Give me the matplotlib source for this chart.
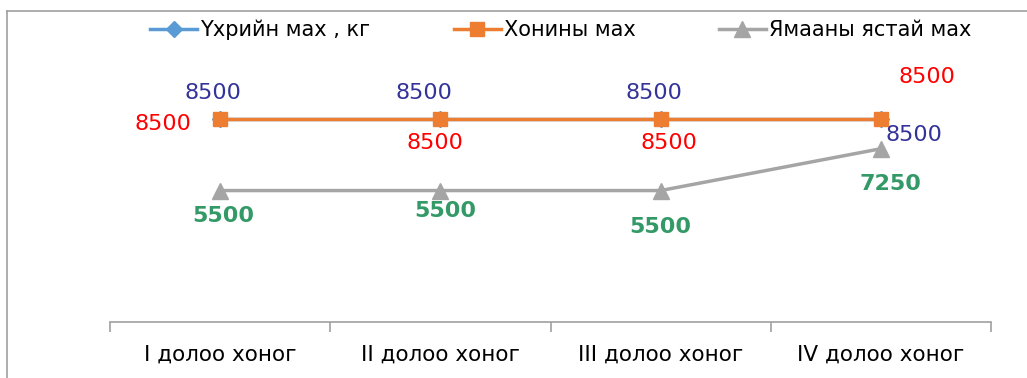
import matplotlib.pyplot as plt
from matplotlib.lines import Line2D

plt.rcParams['font.family'] = ['DejaVu Sans']

weeks = ['I долоо хоног', 'II долоо хоног', 'III долоо хоног', 'IV долоо хоног']
beef = [8500, 8500, 8500, 8500]
mutton = [8500, 8500, 8500, 8500]
goat = [5500, 5500, 5500, 7250]

names = ['Үхрийн мах , кг', 'Хонины мах', 'Ямааны ястай мах']

fig = plt.figure(figsize=(10.27, 3.78), dpi=100)
ax = fig.add_axes([110/1027, 56/378, 881/1027, 239/378])

x = list(range(len(weeks)))
ax.plot(x, beef, color='#5B9BD5', lw=2.5, marker='D', ms=8, label=names[0])
ax.plot(x, mutton, color='#ED7D31', lw=2.5, marker='s', ms=10, label=names[1])
ax.plot(x, goat, color='#A5A5A5', lw=2.5, marker='^', ms=11, label=names[2])

# data labels (offsets in pixels)
beef_off = [(-7, 26), (-16, 26), (-7, 26), (33, -16)]
mutton_off = [(-57, -5), (-5, -24), (8, -24), (46, 42)]
goat_off = [(3, -25), (5, -20), (0, -36), (10, -35)]
for i in x:
    ax.annotate(str(beef[i]), (i, beef[i]), xytext=beef_off[i], textcoords='offset pixels',
                ha='center', va='center', color='#333399', fontsize=16)
    ax.annotate(str(mutton[i]), (i, mutton[i]), xytext=mutton_off[i], textcoords='offset pixels',
                ha='center', va='center', color='#FF0000', fontsize=16)
    ax.annotate(str(goat[i]), (i, goat[i]), xytext=goat_off[i], textcoords='offset pixels',
                ha='center', va='center', color='#339966', fontsize=16, fontweight='bold')

ax.set_xlim(-0.5, 3.5)
ax.set_ylim(0, 10000)
ax.set_yticks([])
ax.set_xticks(x)
ax.set_xticklabels(weeks, fontsize=15.5)
ax.tick_params(axis='x', which='major', length=0, pad=16)
ax.set_xticks([-0.5, 0.5, 1.5, 2.5, 3.5], minor=True)
ax.tick_params(axis='x', which='minor', length=7, color='#A0A0A0', width=1.2)
for s in ['top', 'right', 'left']:
    ax.spines[s].set_visible(False)
ax.spines['bottom'].set_color('#A0A0A0')
ax.spines['bottom'].set_linewidth(1.2)

fig.legend(loc='center', bbox_to_anchor=(0.546, 1 - 30/378), ncol=3, frameon=False,
           fontsize=15, handlelength=2.25, columnspacing=4.0, handletextpad=0.15)

# chart border (left and top only visible)
fig.add_artist(Line2D([7/1027, 7/1027], [0, 1 - 11/378], color='#A0A0A0', lw=1.2))
fig.add_artist(Line2D([7/1027, 1], [1 - 11/378, 1 - 11/378], color='#A0A0A0', lw=1.2))

fig.savefig('out.png', dpi=100)
